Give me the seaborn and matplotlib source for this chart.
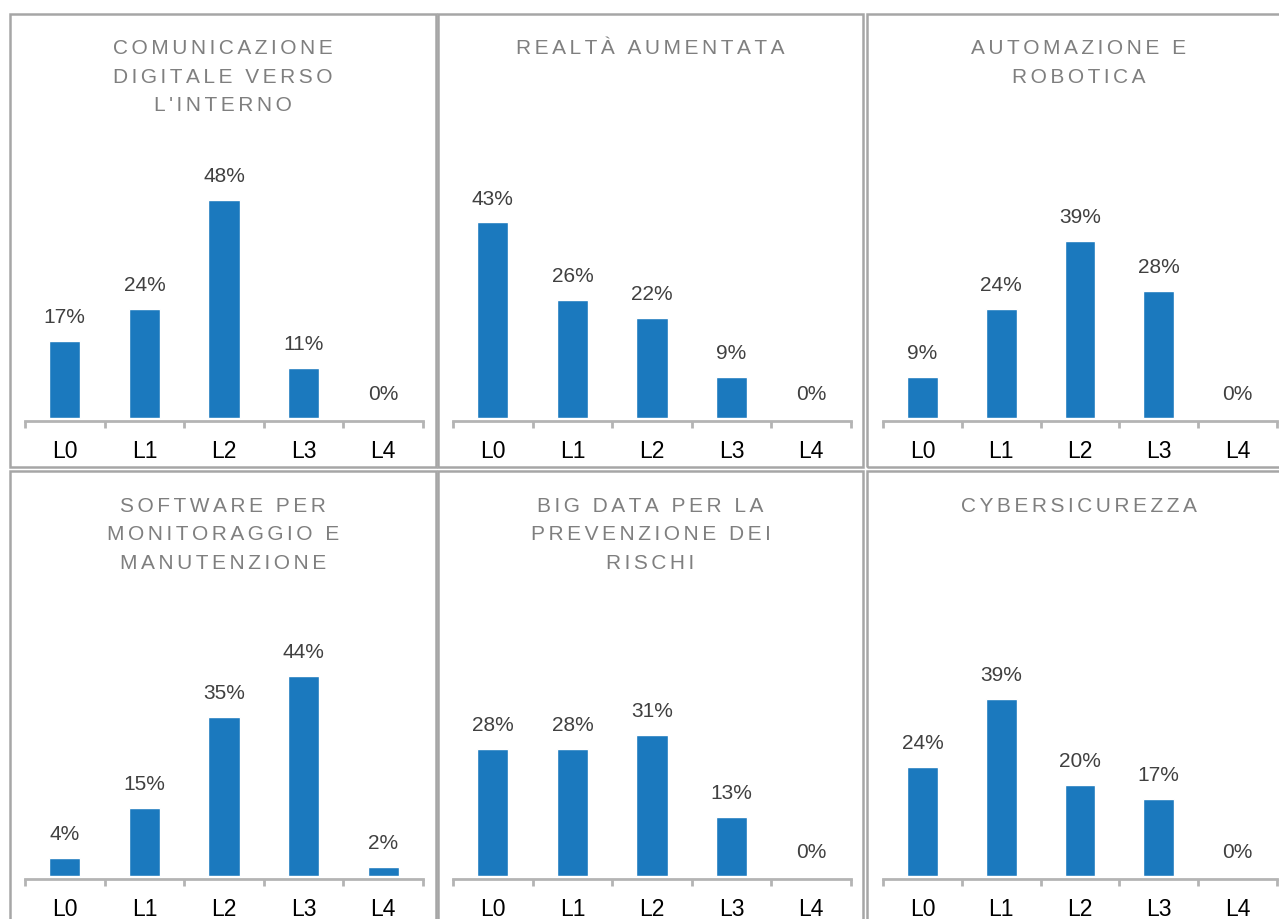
import numpy as np
import seaborn as sns
import matplotlib.pyplot as plt
from matplotlib.patches import Rectangle


livelli = ['L0', 'L1', 'L2', 'L3', 'L4']

titoli = ["COMUNICAZIONE\nDIGITALE VERSO\nL'INTERNO",
          'REALTÀ AUMENTATA',
          'AUTOMAZIONE E\nROBOTICA',
          'SOFTWARE PER\nMONITORAGGIO E\nMANUTENZIONE',
          'BIG DATA PER LA\nPREVENZIONE DEI\nRISCHI',
          'CYBERSICUREZZA']

comunicazione = [17, 24, 48, 11, 0]
realta_aumentata = [43, 26, 22, 9, 0]
automazione = [9, 24, 39, 28, 0]
software = [4, 15, 35, 44, 2]
big_data = [28, 28, 31, 13, 0]
cybersicurezza = [24, 39, 20, 17, 0]

valori = [comunicazione, realta_aumentata, automazione,
          software, big_data, cybersicurezza]

W, H = 1279, 920
blu = '#1b79be'
grigio_bordo = '#a6a6a6'
grigio_asse = '#b4b4b4'


def fx(x):
    return x / W


def fy(y):
    return 1 - y / H


def spaziato(testo, sep='\u2006'):
    "letter spacing like the original titles"
    return '\n'.join(sep.join(riga) for riga in testo.split('\n'))


sns.set_style('white')
plt.rcParams['font.family'] = ['Liberation Sans', 'DejaVu Sans']

fig = plt.figure(figsize=(W / 100, H / 100), dpi=100)

# panel boxes (pixels, top-left origin)
colonne = [(10, 435.5), (438, 863), (867, 1290)]
righe = [(14.5, 468), (472, 940)]
assi_x = [(25, 423), (453, 851), (883, 1277)]
assi_y = [422, 880]
altezza_asse = 272
px_per_punto = 4.55

for i, (titolo, vals) in enumerate(zip(titoli, valori)):
    r, c = divmod(i, 3)
    x0, x1 = colonne[c]
    y0, y1 = righe[r]
    fig.patches.append(Rectangle((fx(x0), fy(y1)), fx(x1 - x0), (y1 - y0) / H,
                                 transform=fig.transFigure, fill=False,
                                 edgecolor=grigio_bordo, linewidth=1.8))

    fig.text(fx((x0 + x1) / 2), fy(y0 + 25), spaziato(titolo),
             ha='center', va='top', fontsize=15, color='#7f7f7f',
             linespacing=1.62)

    a0, a1 = assi_x[c]
    base = assi_y[r]
    ax = fig.add_axes([fx(a0), fy(base), fx(a1 - a0), altezza_asse / H])
    sns.barplot(x=livelli, y=vals, color=blu, saturation=1, width=0.39,
                ax=ax)

    for j, v in enumerate(vals):
        ax.annotate(f'{v}%', (j, v), xytext=(0, 17.5), textcoords='offset points',
                    ha='center', va='center', fontsize=15, color='#404040')

    ax.set_xlim(-0.5, 4.5)
    ax.set_ylim(-3 / px_per_punto, (altezza_asse - 3) / px_per_punto)
    ax.set_yticks([])
    ax.set_xlabel('')
    ax.set_ylabel('')
    for lato in ['top', 'left', 'right']:
        ax.spines[lato].set_visible(False)
    ax.spines['bottom'].set_color(grigio_asse)
    ax.spines['bottom'].set_linewidth(2)
    ax.set_xticks(np.arange(-0.5, 5, 1), minor=True)
    ax.tick_params(axis='x', which='minor', bottom=True, length=5, width=2,
                   color=grigio_asse, direction='out')
    ax.tick_params(axis='x', which='major', length=0, pad=13, labelsize=16.5,
                   labelcolor='black')
    ax.patch.set_alpha(0)

fig.savefig('out.png', dpi=100)
